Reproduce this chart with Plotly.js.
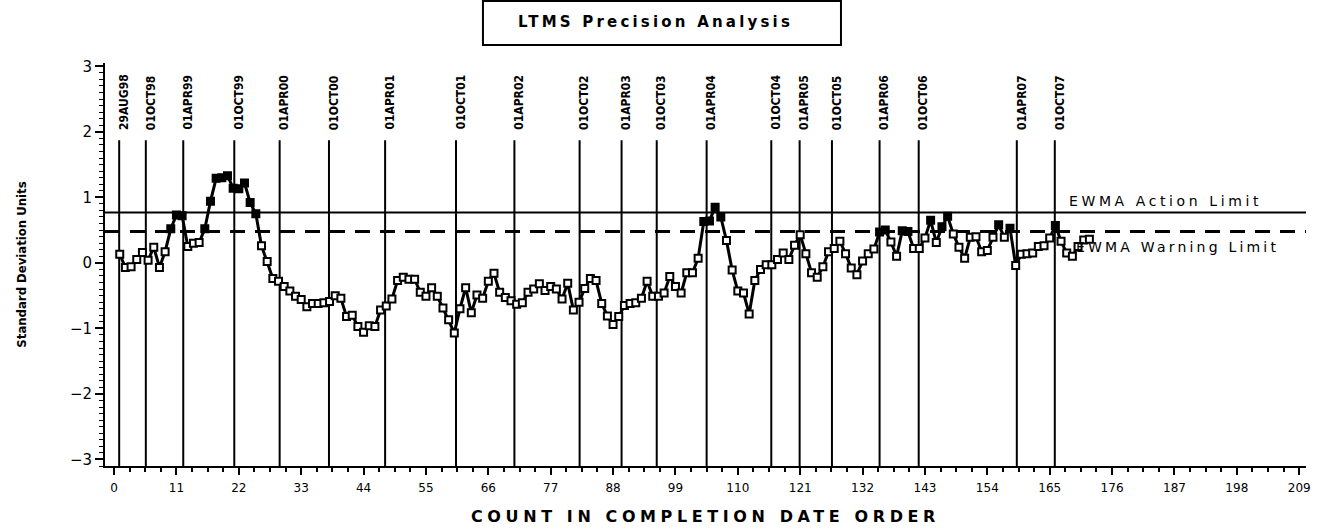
<!DOCTYPE html>
<html><head><meta charset="utf-8">
<script src="https://cdn.plot.ly/plotly-3.0.1.min.js"></script>
<style>html,body{margin:0;padding:0;background:#fff}#chart{width:1332px;height:529px}</style>
</head><body><div id="chart"></div>
<script>
// EWMA standardized values, in completion-date order (count 1..172)
const ewmaValues = [
  0.13,-0.07,-0.06,0.05,0.16,0.04,0.24,-0.07,0.17,0.52,
  0.73,0.72,0.25,0.30,0.31,0.52,0.94,1.29,1.30,1.33,
  1.14,1.13,1.22,0.92,0.75,0.26,0.02,-0.24,-0.28,-0.36,
  -0.43,-0.51,-0.56,-0.67,-0.62,-0.62,-0.61,-0.59,-0.50,-0.54,
  -0.82,-0.80,-0.97,-1.06,-0.96,-0.97,-0.72,-0.66,-0.55,-0.27,
  -0.22,-0.25,-0.25,-0.45,-0.51,-0.38,-0.51,-0.69,-0.87,-1.07,
  -0.70,-0.38,-0.76,-0.49,-0.54,-0.28,-0.16,-0.45,-0.53,-0.58,
  -0.63,-0.61,-0.45,-0.40,-0.32,-0.42,-0.36,-0.40,-0.55,-0.31,
  -0.72,-0.60,-0.39,-0.24,-0.27,-0.62,-0.81,-0.94,-0.82,-0.65,
  -0.62,-0.61,-0.54,-0.28,-0.51,-0.51,-0.46,-0.21,-0.36,-0.46,
  -0.15,-0.15,0.07,0.63,0.64,0.85,0.70,0.34,-0.11,-0.43,
  -0.46,-0.78,-0.27,-0.10,-0.03,-0.03,0.05,0.15,0.05,0.27,
  0.43,0.14,-0.15,-0.22,-0.06,0.17,0.22,0.33,0.14,-0.08,
  -0.18,0.03,0.14,0.21,0.47,0.50,0.32,0.10,0.49,0.48,
  0.22,0.22,0.38,0.65,0.31,0.55,0.71,0.44,0.24,0.07,
  0.39,0.40,0.17,0.19,0.39,0.58,0.39,0.53,-0.04,0.13,
  0.14,0.15,0.25,0.26,0.38,0.57,0.33,0.15,0.10,0.25,
  0.35,0.36
];
const dateLabels = ['29AUG98','01OCT98','01APR99','01OCT99','01APR00','01OCT00','01APR01',
  '01OCT01','01APR02','01OCT02','01APR03','01OCT03','01APR04','01OCT04','01APR05','01OCT05',
  '01APR06','01OCT06','01APR07','01OCT07'];
const dateCounts = [0.9,5.6,12.2,21.2,29.2,37.9,47.8,60.3,70.6,82.1,89.5,95.7,104.5,
  115.9,120.9,126.6,135.0,141.9,159.2,165.9];
const actionLimit = 0.77;
const warningLimit = 0.48;
const actionLabel = 'EWMA Action Limit';
const warningLabel = 'EWMA Warning Limit';
const chartTitle = 'LTMS Precision Analysis';
const xTitle = 'COUNT IN COMPLETION DATE ORDER';
const yTitle = 'Standard Deviation Units';

const counts = ewmaValues.map((_, i) => i + 1);
const fillColors = ewmaValues.map(v => v > 0.46 ? 'black' : 'white');

const narrow = "'Liberation Sans Narrow', 'DejaVu Sans Condensed', 'Liberation Sans', sans-serif";
const wide = "'DejaVu Sans', sans-serif";

const shapes = [];
dateCounts.forEach(c => shapes.push({type:'line', xref:'x', yref:'y', x0:c, x1:c, y0:-3.1, y1:1.87,
  line:{color:'black', width:2}, layer:'below'}));
shapes.push({type:'line', xref:'paper', yref:'y', x0:0, x1:1, y0:actionLimit, y1:actionLimit,
  line:{color:'black', width:2}, layer:'below'});
shapes.push({type:'line', xref:'paper', yref:'y', x0:0, x1:1, y0:warningLimit, y1:warningLimit,
  line:{color:'black', width:3, dash:'15px,10px'}, layer:'below'});
shapes.push({type:'rect', xref:'paper', yref:'paper', x0:0.3147, x1:0.6128, y0:1.0447, y1:1.1538,
  line:{color:'black', width:2}});

const annotations = [];
annotations.push({xref:'paper', yref:'paper', x:0.458, y:1.1017, xanchor:'center', yanchor:'middle',
  showarrow:false, text:'<span style="letter-spacing:3.2px">'+chartTitle+'</span>',
  font:{family:wide, size:15, color:'black', weight:'bold'}});
annotations.push({xref:'x', yref:'y', x:168.0, y:actionLimit, xanchor:'left', yanchor:'bottom', yshift:1,
  showarrow:false, text:'<span style="letter-spacing:3.6px">'+actionLabel+'</span>',
  font:{family:wide, size:14, color:'black'}});
annotations.push({xref:'x', yref:'y', x:169.3, y:warningLimit, xanchor:'left', yanchor:'top', yshift:-6,
  showarrow:false, text:'<span style="letter-spacing:3.2px">'+warningLabel+'</span>',
  font:{family:wide, size:14, color:'black'}});
dateLabels.forEach((lab, i) => annotations.push({xref:'x', yref:'y', x:dateCounts[i], y:2.0,
  xanchor:'center', yanchor:'bottom', xshift:5, textangle:-90, showarrow:false, text:lab,
  font:{family:narrow, size:12, color:'black', weight:'bold'}}));

const trace = {
  x: counts, y: ewmaValues, type:'scatter', mode:'lines+markers',
  line:{color:'black', width:3},
  marker:{symbol:'square', size:7, color:fillColors, line:{color:'black', width:2}},
  hoverinfo:'x+y', showlegend:false
};

const layout = {
  width:1332, height:529,
  margin:{l:105, r:26, t:63, b:63},
  paper_bgcolor:'white', plot_bgcolor:'white',
  showlegend:false,
  xaxis:{range:[-1.6,210.2], tick0:0, dtick:11, ticks:'outside', ticklen:7, tickwidth:2, tickcolor:'black',
    showline:true, linecolor:'black', linewidth:2, showgrid:false, zeroline:false,
    tickfont:{family:wide, size:12, color:'black'}, ticklabelstandoff:3,
    minor:{dtick:2.75, tick0:0, ticks:'outside', ticklen:4, tickwidth:2, tickcolor:'black', showgrid:false},
    title:{text:'<span style="letter-spacing:4.6px">'+xTitle+'</span>', standoff:16,
      font:{family:wide, size:16, color:'black', weight:'bold'}}},
  yaxis:{range:[-3.1,3.05], tick0:0, dtick:1, ticks:'outside', ticklen:8, tickwidth:2, tickcolor:'black',
    showline:true, linecolor:'black', linewidth:2, showgrid:false, zeroline:false,
    tickfont:{family:wide, size:15, color:'black'}, ticklabelstandoff:0,
    minor:{dtick:0.1, tick0:0, ticks:'outside', ticklen:4, tickwidth:1, tickcolor:'black', showgrid:false},
    title:{text:yTitle, standoff:40, font:{family:narrow, size:13, color:'black', weight:'bold'}}},
  shapes:shapes, annotations:annotations
};
Plotly.newPlot('chart', [trace], layout, {displayModeBar:false, staticPlot:true});
</script></body></html>
